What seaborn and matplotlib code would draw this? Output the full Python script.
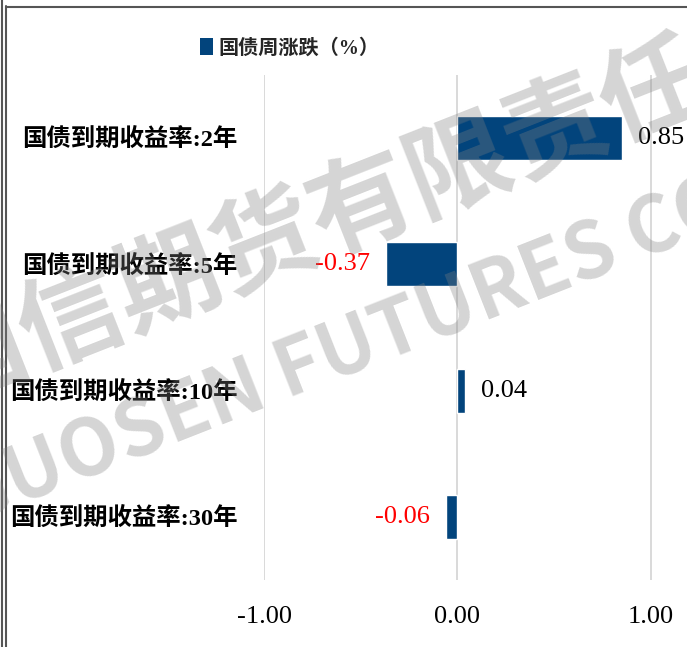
import matplotlib
matplotlib.use('Agg')
import matplotlib.pyplot as plt
import seaborn as sns
import pandas as pd
from matplotlib.lines import Line2D
from matplotlib.patches import Patch

categories = ['国债到期收益率:2年', '国债到期收益率:5年', '国债到期收益率:10年', '国债到期收益率:30年']
values = [0.85, -0.37, 0.04, -0.06]
xticks = [-1.0, 0.0, 1.0]
series_name = '国债周涨跌（%）'
watermark_cn = '国信期货有限责任公司'
watermark_en = 'GUOSEN FUTURES CO'

sns.set_theme(style='white')
plt.rcParams['font.family'] = ['Liberation Serif', 'Noto Sans CJK SC']

BAR = '#02447C'
W, H = 687, 647
fig = plt.figure(figsize=(W / 100, H / 100), dpi=100)
fig.patch.set_facecolor('white')
ax = fig.add_axes([264 / W, 1 - 580 / H, 1 - 264 / W, (580 - 75) / H])

df = pd.DataFrame({'cat': categories, 'val': values})
sns.barplot(data=df, x='val', y='cat', orient='h', color=BAR, width=0.35,
            saturation=1, ax=ax)

ax.set_xlim(-1.0, 1.187)
ax.set_ylim(3.5, -0.5)
ax.set_xticks(xticks)
ax.set_xticklabels([f'{t:.2f}' for t in xticks])
ax.set_xlabel('')
ax.set_ylabel('')
ax.xaxis.grid(True, color='#d9d9d9', lw=1.4)
ax.yaxis.grid(False)
ax.set_axisbelow(True)
for s in ax.spines.values():
    s.set_visible(False)
ax.tick_params(axis='x', length=0, pad=19, labelsize=19, colors='black')
ax.tick_params(axis='y', length=0, pad=19, labelsize=17.6, colors='black')
for lab in ax.get_yticklabels():
    lab.set_fontweight('bold')

texts = ax.bar_label(ax.containers[0], labels=[f'{v:.2f}' for v in values],
                     padding=11.5, fontsize=19)
for t, v in zip(texts, values):
    t.set_color('#FF0000' if v < 0 else 'black')
    t.set_clip_on(False)

fig.legend(handles=[Patch(facecolor=BAR, edgecolor='none')], labels=[series_name],
           loc='center', bbox_to_anchor=(290 / W, 1 - 48 / H), frameon=False,
           handlelength=0.6, handleheight=0.95, handletextpad=0.3,
           prop={'size': 14.5, 'weight': 'bold',
                 'family': ['Liberation Serif', 'Noto Sans CJK SC']})

# watermark
fig.text(410 / W, 1 - 186 / H, watermark_cn, rotation=21.5, ha='center', va='center',
         fontsize=75, fontweight='bold', color='#808080', alpha=0.33,
         family=['Noto Sans CJK SC'], zorder=20)
fig.text(345 / W, 1 - 352 / H, watermark_en, rotation=21.5, ha='center', va='center',
         fontsize=56, fontweight='bold', color='#808080', alpha=0.33,
         family=['Noto Sans CJK SC'], zorder=20)

# outer border
fig.add_artist(Line2D([1.5 / W, 1.5 / W], [0, 1], color='#555555', lw=1.5, transform=fig.transFigure))
fig.add_artist(Line2D([5.5 / W, 5.5 / W], [0, 1 - 6 / H], color='#555555', lw=1.5, transform=fig.transFigure))
fig.add_artist(Line2D([5.5 / W, 1], [1 - 6.5 / H, 1 - 6.5 / H], color='#555555', lw=1.5, transform=fig.transFigure))

fig.savefig('out.png', dpi=100)
